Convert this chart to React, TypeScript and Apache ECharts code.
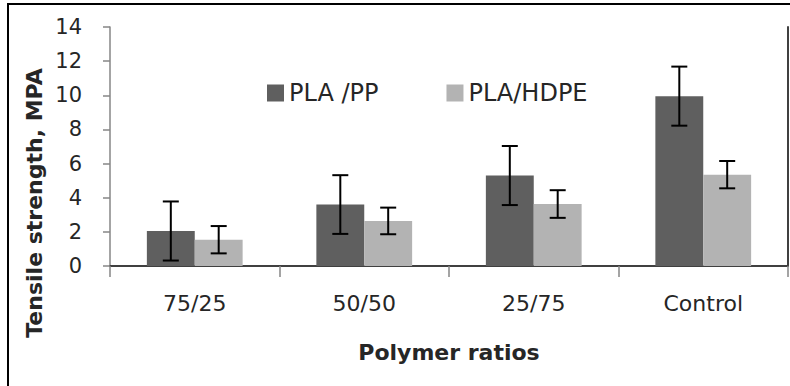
import React, { useEffect, useRef } from "react";
import * as echarts from "echarts";

const categories = ["75/25", "50/50", "25/75", "Control"];
const seriesNames = ["PLA /PP", "PLA/HDPE"];
const ppValues = [2.05, 3.6, 5.3, 9.95];
const ppErrors = [1.73, 1.72, 1.73, 1.73];
const hdpeValues = [1.54, 2.64, 3.63, 5.35];
const hdpeErrors = [0.8, 0.78, 0.81, 0.8];
const yTicks = { min: 0, max: 14, interval: 2 };

const FONT = "DejaVu Sans";
const TEXT = "#262626";
const AXIS = "#868686";
const FRAME = "#404040";
const GAP_RATIO = 0.435;

export default function App() {
  const ref = useRef<HTMLDivElement>(null);
  useEffect(() => {
    if (!ref.current) return;
    const chart = echarts.init(ref.current, null, { renderer: "svg" });

    const errData: number[][] = [];
    ppValues.forEach((v, i) => errData.push([i, v - ppErrors[i], v + ppErrors[i], 0]));
    hdpeValues.forEach((v, i) => errData.push([i, v - hdpeErrors[i], v + hdpeErrors[i], 1]));

    const renderItem = (params: any, api: any) => {
      const idx = api.value(0);
      const lo = api.value(1);
      const hi = api.value(2);
      const s = api.value(3);
      const band = api.size([1, 0])[0];
      const bw = (band * (1 - GAP_RATIO)) / 2;
      const off = (s === 0 ? -0.5 : 0.5) * bw;
      const top = api.coord([idx, hi]);
      const bot = api.coord([idx, lo]);
      const x = top[0] + off;
      const cap = 8;
      const st = { stroke: "#000", lineWidth: 2 };
      return {
        type: "group",
        children: [
          { type: "line", shape: { x1: x, y1: top[1], x2: x, y2: bot[1] }, style: st },
          { type: "line", shape: { x1: x - cap, y1: top[1], x2: x + cap, y2: top[1] }, style: st },
          { type: "line", shape: { x1: x - cap, y1: bot[1], x2: x + cap, y2: bot[1] }, style: st },
        ],
      };
    };

    chart.setOption({
      animation: false,
      backgroundColor: "#fff",
      grid: { left: 110, right: 2, top: 27, bottom: 120, containLabel: false },
      legend: {
        data: seriesNames,
        left: 267,
        top: 81,
        padding: 0,
        itemWidth: 17,
        itemHeight: 17,
        itemGap: 68,
        icon: "rect",
        textStyle: { fontFamily: FONT, fontSize: 24, color: TEXT },
      },
      xAxis: [
        {
          type: "category",
          data: categories,
          position: "bottom",
          axisLine: { lineStyle: { color: AXIS, width: 1.5 } },
          axisTick: { show: true, length: 11, lineStyle: { color: AXIS, width: 1.5 } },
          axisLabel: { fontFamily: FONT, fontSize: 22, color: TEXT, margin: 26 },
          name: "Polymer ratios",
          nameLocation: "middle",
          nameGap: 75,
          nameTextStyle: { fontFamily: FONT, fontSize: 22, fontWeight: "bold", color: TEXT },
        },
        {
          type: "category",
          data: categories,
          position: "top",
          axisLine: { lineStyle: { color: FRAME, width: 2 } },
          axisTick: { show: false },
          axisLabel: { show: false },
        },
      ],
      yAxis: [
        {
          type: "value",
          min: yTicks.min,
          max: yTicks.max,
          interval: yTicks.interval,
          position: "left",
          axisLine: { show: true, lineStyle: { color: AXIS, width: 1.5 } },
          axisTick: { show: true, length: 7, lineStyle: { color: AXIS, width: 1.5 } },
          splitLine: { show: false },
          axisLabel: { fontFamily: FONT, fontSize: 21, color: TEXT, margin: 28 },
        },
        {
          type: "value",
          min: yTicks.min,
          max: yTicks.max,
          interval: yTicks.interval,
          position: "right",
          axisLine: { show: true, lineStyle: { color: FRAME, width: 2 } },
          axisTick: { show: false },
          axisLabel: { show: false },
          splitLine: { show: false },
        },
      ],
      series: [
        {
          name: seriesNames[0],
          type: "bar",
          data: ppValues,
          barGap: "0%",
          barCategoryGap: GAP_RATIO * 100 + "%",
          itemStyle: { color: "#5f5f5f" },
        },
        {
          name: seriesNames[1],
          type: "bar",
          data: hdpeValues,
          barGap: "0%",
          barCategoryGap: GAP_RATIO * 100 + "%",
          itemStyle: { color: "#b3b3b3" },
        },
        {
          type: "custom",
          renderItem,
          data: errData,
          encode: { x: 0, y: [1, 2] },
          z: 10,
        },
      ],
      graphic: [
        {
          type: "rect",
          shape: { x: 8, y: 4, width: 900, height: 500 },
          style: { fill: "none", stroke: "#000", lineWidth: 2 },
          silent: true,
        },
        {
          type: "text",
          x: 34,
          y: 203,
          rotation: Math.PI / 2,
          style: {
            text: "Tensile strength, MPA",
            font: `bold 22px "${FONT}"`,
            fill: TEXT,
            align: "center",
            verticalAlign: "middle",
          },
        },
      ],
    });
    return () => chart.dispose();
  }, []);
  return (
    <div
      ref={ref}
      style={{ position: "fixed", left: 0, top: 0, width: 790, height: 386 }}
    />
  );
}
